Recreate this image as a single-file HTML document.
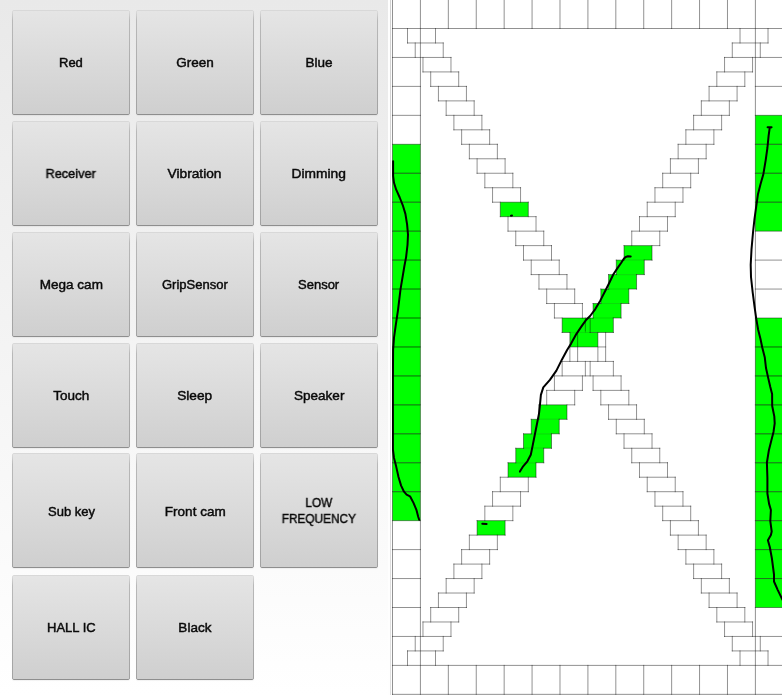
<!DOCTYPE html>
<html><head><meta charset="utf-8"><title>Test</title>
<style>
html,body{margin:0;padding:0}
body{width:782px;height:695px;overflow:hidden;position:relative;background:linear-gradient(#e9e9e9,#ffffff);font-family:"Liberation Sans",sans-serif}
.b{position:absolute;box-sizing:border-box;background:linear-gradient(#e5e5e5,#cfcfcf);border:1px solid transparent;border-top-color:#d8d8d8;border-bottom-color:#8e8e8e;box-shadow:0 1px 1px rgba(0,0,0,0.05);border-radius:2px;display:flex;align-items:center;justify-content:center;text-align:center;font-size:13px;color:#0a0a0a;line-height:15.5px;-webkit-text-stroke:0.45px #0a0a0a}
.b::before,.b::after{content:"";position:absolute;top:0;bottom:0;width:1px;background:linear-gradient(rgba(0,0,0,0.04),rgba(0,0,0,0.19) 9%,rgba(0,0,0,0.22))}
.b::before{left:-1px}.b::after{right:-1px}
.b span{display:block;position:relative;top:0;will-change:transform;transform:scaleX(var(--s,1))}
#p{position:absolute;left:392.0px;top:0;width:390.0px;height:695px;background:#fff}
#s2{position:absolute;left:388.3px;top:0;width:3.7px;height:695px;background:#fefefe}
#s{position:absolute;left:390px;top:0;width:1px;height:695px;background:linear-gradient(#d2d2d2,#e0e0e0)}
</style></head><body>
<div class="b" style="left:12px;top:10px;width:118px;height:105px"><span>Red</span></div><div class="b" style="left:136px;top:10px;width:118px;height:105px"><span style="--s:1.04;">Green</span></div><div class="b" style="left:260px;top:10px;width:118px;height:105px"><span style="--s:1.04;">Blue</span></div><div class="b" style="left:12px;top:121px;width:118px;height:105px"><span style="--s:0.98;">Receiver</span></div><div class="b" style="left:136px;top:121px;width:118px;height:105px"><span style="--s:1.055;">Vibration</span></div><div class="b" style="left:260px;top:121px;width:118px;height:105px"><span style="--s:1.06;">Dimming</span></div><div class="b" style="left:12px;top:232px;width:118px;height:105px"><span style="--s:1.04;">Mega cam</span></div><div class="b" style="left:136px;top:232px;width:118px;height:105px"><span>GripSensor</span></div><div class="b" style="left:260px;top:232px;width:118px;height:105px"><span>Sensor</span></div><div class="b" style="left:12px;top:343px;width:118px;height:105px"><span style="--s:1.04;">Touch</span></div><div class="b" style="left:136px;top:343px;width:118px;height:105px"><span style="--s:1.05;">Sleep</span></div><div class="b" style="left:260px;top:343px;width:118px;height:105px"><span style="--s:1.04;">Speaker</span></div><div class="b" style="left:12px;top:453px;width:118px;height:115px"><span style="top:1px">Sub key</span></div><div class="b" style="left:136px;top:453px;width:118px;height:115px"><span style="--s:1.04;top:1px">Front cam</span></div><div class="b" style="left:260px;top:453px;width:118px;height:115px"><span style="--s:0.91;">LOW<br>FREQUENCY</span></div><div class="b" style="left:12px;top:575px;width:118px;height:105px"><span>HALL IC</span></div><div class="b" style="left:136px;top:575px;width:118px;height:105px"><span style="--s:1.04;">Black</span></div>
<div id="s2"></div><div id="s"></div>
<svg id="p" width="390.0" height="695" viewBox="0 0 390.0 695">
<g fill="#00ff00" stroke="none"><rect x="363.39" y="115.35" width="27.91" height="28.95"/><rect x="0.50" y="144.30" width="27.91" height="28.95"/><rect x="363.39" y="144.30" width="27.91" height="28.95"/><rect x="0.50" y="173.25" width="27.91" height="28.95"/><rect x="363.39" y="173.25" width="27.91" height="28.95"/><rect x="0.50" y="202.20" width="27.91" height="28.95"/><rect x="363.39" y="202.20" width="27.91" height="28.95"/><rect x="0.50" y="231.15" width="27.91" height="28.95"/><rect x="0.50" y="260.10" width="27.91" height="28.95"/><rect x="0.50" y="289.05" width="27.91" height="28.95"/><rect x="0.50" y="318.00" width="27.91" height="28.95"/><rect x="363.39" y="318.00" width="27.91" height="28.95"/><rect x="0.50" y="346.95" width="27.91" height="28.95"/><rect x="363.39" y="346.95" width="27.91" height="28.95"/><rect x="0.50" y="375.90" width="27.91" height="28.95"/><rect x="363.39" y="375.90" width="27.91" height="28.95"/><rect x="0.50" y="404.85" width="27.91" height="28.95"/><rect x="363.39" y="404.85" width="27.91" height="28.95"/><rect x="0.50" y="433.80" width="27.91" height="28.95"/><rect x="363.39" y="433.80" width="27.91" height="28.95"/><rect x="0.50" y="462.75" width="27.91" height="28.95"/><rect x="363.39" y="462.75" width="27.91" height="28.95"/><rect x="0.50" y="491.70" width="27.91" height="28.95"/><rect x="363.39" y="491.70" width="27.91" height="28.95"/><rect x="363.39" y="520.65" width="27.91" height="28.95"/><rect x="363.39" y="549.60" width="27.91" height="28.95"/><rect x="363.39" y="578.55" width="27.91" height="28.95"/><rect x="108.30" y="202.20" width="28.00" height="14.47"/><rect x="232.02" y="245.62" width="28.00" height="14.47"/><rect x="224.29" y="260.10" width="28.00" height="14.47"/><rect x="216.56" y="274.57" width="28.00" height="14.47"/><rect x="208.82" y="289.05" width="28.00" height="14.47"/><rect x="201.09" y="303.52" width="28.00" height="14.47"/><rect x="170.16" y="318.00" width="28.00" height="14.47"/><rect x="193.36" y="318.00" width="28.00" height="14.47"/><rect x="177.89" y="332.47" width="28.00" height="14.47"/><rect x="146.96" y="404.85" width="28.00" height="14.47"/><rect x="139.23" y="419.32" width="28.00" height="14.47"/><rect x="131.50" y="433.80" width="28.00" height="14.47"/><rect x="123.76" y="448.27" width="28.00" height="14.47"/><rect x="116.03" y="462.75" width="28.00" height="14.47"/><rect x="85.10" y="520.65" width="28.00" height="14.47"/></g>
<path fill="none" stroke="rgba(0,0,0,0.43)" stroke-width="1" stroke-linecap="square" d="M0.50 -1.45H391.31M0.50 28.50H391.31M15.50 42.98H51.23M340.29 42.98H376.02M0.50 57.45H58.97M332.55 57.45H391.31M30.97 71.92H66.70M324.82 71.92H360.55M0.50 86.40H28.41M38.70 86.40H74.43M317.09 86.40H352.82M363.39 86.40H391.31M46.43 100.88H82.16M309.35 100.88H345.09M0.50 115.35H28.41M54.16 115.35H89.90M301.62 115.35H337.35M363.39 115.35H391.31M61.90 129.82H97.63M293.89 129.82H329.62M0.50 144.30H28.41M69.63 144.30H105.36M286.15 144.30H321.89M363.39 144.30H391.31M77.36 158.78H113.10M278.42 158.78H314.15M0.50 173.25H28.41M85.10 173.25H120.83M270.69 173.25H306.42M363.39 173.25H391.31M92.83 187.72H128.56M262.96 187.72H298.69M0.50 202.20H28.41M100.56 202.20H136.30M255.22 202.20H290.96M363.39 202.20H391.31M108.30 216.67H144.03M247.49 216.67H283.22M0.50 231.15H28.41M116.03 231.15H151.76M239.76 231.15H275.49M363.39 231.15H391.31M123.76 245.62H159.50M232.02 245.62H267.76M0.50 260.10H28.41M131.50 260.10H167.23M224.29 260.10H260.02M363.39 260.10H391.31M139.23 274.58H174.96M216.56 274.58H252.29M0.50 289.05H28.41M146.96 289.05H182.69M208.82 289.05H244.56M363.39 289.05H391.31M154.69 303.53H190.43M201.09 303.53H236.82M0.50 318.00H28.41M162.43 318.00H229.09M363.39 318.00H391.31M170.16 332.48H221.36M0.50 346.95H28.41M177.89 346.95H213.63M363.39 346.95H391.31M170.16 361.43H221.36M0.50 375.90H28.41M162.43 375.90H229.09M363.39 375.90H391.31M154.69 390.38H190.43M201.09 390.38H236.82M0.50 404.85H28.41M146.96 404.85H182.69M208.82 404.85H244.56M363.39 404.85H391.31M139.23 419.32H174.96M216.56 419.32H252.29M0.50 433.80H28.41M131.50 433.80H167.23M224.29 433.80H260.02M363.39 433.80H391.31M123.76 448.28H159.50M232.02 448.28H267.76M0.50 462.75H28.41M116.03 462.75H151.76M239.76 462.75H275.49M363.39 462.75H391.31M108.30 477.23H144.03M247.49 477.23H283.22M0.50 491.70H28.41M100.56 491.70H136.30M255.22 491.70H290.96M363.39 491.70H391.31M92.83 506.18H128.56M262.96 506.18H298.69M0.50 520.65H28.41M85.10 520.65H120.83M270.69 520.65H306.42M363.39 520.65H391.31M77.36 535.12H113.10M278.42 535.12H314.15M0.50 549.60H28.41M69.63 549.60H105.36M286.15 549.60H321.89M363.39 549.60H391.31M61.90 564.08H97.63M293.89 564.08H329.62M0.50 578.55H28.41M54.16 578.55H89.90M301.62 578.55H337.35M363.39 578.55H391.31M46.43 593.02H82.16M309.35 593.02H345.09M0.50 607.50H28.41M38.70 607.50H74.43M317.09 607.50H352.82M363.39 607.50H391.31M30.97 621.98H66.70M324.82 621.98H360.55M0.50 636.45H58.97M332.55 636.45H391.31M15.50 650.92H51.23M340.29 650.92H376.02M0.50 665.40H391.31M0.50 694.35H391.31M0.50 -1.45V694.35M15.50 28.50V42.98M15.50 650.92V665.40M23.23 42.98V57.45M23.23 636.45V650.92M28.41 -1.45V694.35M30.97 57.45V71.92M30.97 621.98V636.45M38.70 71.92V86.40M38.70 607.50V621.98M43.50 28.50V42.98M43.50 650.92V665.40M46.43 86.40V100.88M46.43 593.02V607.50M51.23 42.98V57.45M51.23 636.45V650.92M54.16 100.88V115.35M54.16 578.55V593.02M56.33 -1.45V28.50M56.33 665.40V694.35M58.97 57.45V71.92M58.97 621.98V636.45M61.90 115.35V129.82M61.90 564.07V578.55M66.70 71.92V86.40M66.70 607.50V621.98M69.63 129.82V144.30M69.63 549.60V564.08M74.43 86.40V100.88M74.43 593.02V607.50M77.36 144.30V158.78M77.36 535.12V549.60M82.16 100.88V115.35M82.16 578.55V593.02M84.25 -1.45V28.50M84.25 665.40V694.35M85.10 158.78V173.25M85.10 520.65V535.12M89.90 115.35V129.82M89.90 564.07V578.55M92.83 173.25V187.72M92.83 506.18V520.65M97.63 129.82V144.30M97.63 549.60V564.08M100.56 187.72V202.20M100.56 491.70V506.18M105.36 144.30V158.78M105.36 535.12V549.60M108.30 202.20V216.67M108.30 477.22V491.70M112.16 -1.45V28.50M112.16 665.40V694.35M113.10 158.78V173.25M113.10 520.65V535.12M116.03 216.67V231.15M116.03 462.75V477.23M120.83 173.25V187.72M120.83 506.18V520.65M123.76 231.15V245.62M123.76 448.27V462.75M128.56 187.72V202.20M128.56 491.70V506.18M131.50 245.62V260.10M131.50 433.80V448.28M136.30 202.20V216.67M136.30 477.22V491.70M139.23 260.10V274.58M139.23 419.32V433.80M140.07 -1.45V28.50M140.07 665.40V694.35M144.03 216.67V231.15M144.03 462.75V477.23M146.96 274.57V289.05M146.96 404.85V419.32M151.76 231.15V245.62M151.76 448.27V462.75M154.69 289.05V303.53M154.69 390.38V404.85M159.50 245.62V260.10M159.50 433.80V448.28M162.43 303.52V318.00M162.43 375.90V390.38M167.23 260.10V274.58M167.23 419.32V433.80M167.99 -1.45V28.50M167.99 665.40V694.35M170.16 318.00V332.48M170.16 361.43V375.90M174.96 274.57V289.05M174.96 404.85V419.32M177.89 332.47V361.43M182.69 289.05V303.53M182.69 390.38V404.85M185.63 332.47V361.43M190.43 303.52V318.00M190.43 375.90V390.38M193.36 318.00V332.48M193.36 361.43V375.90M195.91 -1.45V28.50M195.91 665.40V694.35M198.16 318.00V332.48M198.16 361.43V375.90M201.09 303.52V318.00M201.09 375.90V390.38M205.89 332.47V361.43M208.82 289.05V303.53M208.82 390.38V404.85M213.63 332.47V361.43M216.56 274.57V289.05M216.56 404.85V419.32M221.36 318.00V332.48M221.36 361.43V375.90M223.82 -1.45V28.50M223.82 665.40V694.35M224.29 260.10V274.58M224.29 419.32V433.80M229.09 303.52V318.00M229.09 375.90V390.38M232.02 245.62V260.10M232.02 433.80V448.28M236.82 289.05V303.53M236.82 390.38V404.85M239.76 231.15V245.62M239.76 448.27V462.75M244.56 274.57V289.05M244.56 404.85V419.32M247.49 216.67V231.15M247.49 462.75V477.23M251.73 -1.45V28.50M251.73 665.40V694.35M252.29 260.10V274.58M252.29 419.32V433.80M255.22 202.20V216.67M255.22 477.22V491.70M260.02 245.62V260.10M260.02 433.80V448.28M262.96 187.72V202.20M262.96 491.70V506.18M267.76 231.15V245.62M267.76 448.27V462.75M270.69 173.25V187.72M270.69 506.18V520.65M275.49 216.67V231.15M275.49 462.75V477.23M278.42 158.78V173.25M278.42 520.65V535.12M279.65 -1.45V28.50M279.65 665.40V694.35M283.22 202.20V216.67M283.22 477.22V491.70M286.15 144.30V158.78M286.15 535.12V549.60M290.96 187.72V202.20M290.96 491.70V506.18M293.89 129.82V144.30M293.89 549.60V564.08M298.69 173.25V187.72M298.69 506.18V520.65M301.62 115.35V129.82M301.62 564.07V578.55M306.42 158.78V173.25M306.42 520.65V535.12M307.56 -1.45V28.50M307.56 665.40V694.35M309.35 100.88V115.35M309.35 578.55V593.02M314.15 144.30V158.78M314.15 535.12V549.60M317.09 86.40V100.88M317.09 593.02V607.50M321.89 129.82V144.30M321.89 549.60V564.08M324.82 71.92V86.40M324.82 607.50V621.98M329.62 115.35V129.82M329.62 564.07V578.55M332.55 57.45V71.92M332.55 621.98V636.45M335.48 -1.45V28.50M335.48 665.40V694.35M337.35 100.88V115.35M337.35 578.55V593.02M340.29 42.98V57.45M340.29 636.45V650.92M345.09 86.40V100.88M345.09 593.02V607.50M348.02 28.50V42.98M348.02 650.92V665.40M352.82 71.92V86.40M352.82 607.50V621.98M360.55 57.45V71.92M360.55 621.98V636.45M363.40 -1.45V694.35M368.29 42.98V57.45M368.29 636.45V650.92M376.02 28.50V42.98M376.02 650.92V665.40M391.31 -1.45V694.35"/>
<path fill="none" stroke="rgba(0,0,0,0.22)" stroke-width="1" d="M363.89 144.30H390.0M1.00 173.25H27.91M363.89 173.25H390.0M1.00 202.20H27.91M363.89 202.20H390.0M1.00 231.15H27.91M1.00 260.10H27.91M1.00 289.05H27.91M1.00 318.00H27.91M1.00 346.95H27.91M363.89 346.95H390.0M1.00 375.90H27.91M363.89 375.90H390.0M1.00 404.85H27.91M363.89 404.85H390.0M1.00 433.80H27.91M363.89 433.80H390.0M1.00 462.75H27.91M363.89 462.75H390.0M1.00 491.70H27.91M363.89 491.70H390.0M363.89 520.65H390.0M363.89 549.60H390.0M363.89 578.55H390.0"/>
<g fill="#00ff00" opacity="0.7"><rect x="232.82" y="259.10" width="18.67" height="2"/><rect x="225.09" y="273.57" width="18.67" height="2"/><rect x="217.36" y="288.05" width="18.67" height="2"/><rect x="209.62" y="302.52" width="18.67" height="2"/><rect x="201.89" y="317.00" width="18.67" height="2"/><rect x="147.76" y="418.32" width="18.67" height="2"/><rect x="140.03" y="432.80" width="18.67" height="2"/><rect x="132.30" y="447.27" width="18.67" height="2"/><rect x="124.56" y="461.75" width="18.67" height="2"/><rect x="178.69" y="331.47" width="18.67" height="2"/></g>
<g fill="none" stroke="#000" stroke-width="2" stroke-linecap="round" stroke-linejoin="round"><polyline points="1.1,161.2 1.1,175.9 2.0,182.8 4.2,189.7 7.7,197.5 10.8,205.3 13.4,213.9 15.1,224.3 16.0,234.6 15.5,245.0 14.1,257.1 12.4,266.0 11.1,273.8 8.5,289.4 6.0,310.1 3.7,325.6 2.0,337.7 1.1,349.8 0.9,379.7 0.9,420.0 0.9,449.4 2.0,458.0 4.2,466.6 6.5,477.0 9.1,485.6 12.0,491.7 14.6,494.6 18.0,496.3 21.5,502.9 24.4,509.8 26.2,516.7 27.2,519.8"/><polyline points="375.6,127.2 379.6,127.2 377.7,127.8 376.6,135.9 375.4,148.0 373.7,160.1 371.4,173.9 368.5,184.3 365.9,194.6 364.2,206.7 362.5,218.8 361.1,231.5 359.5,249.4 358.7,264.9 359.0,277.0 360.7,292.5 362.5,306.4 364.2,318.4 366.1,329.4 368.5,339.0 370.2,347.3 372.8,357.6 374.0,368.0 376.3,378.4 378.3,387.0 380.1,393.9 380.2,406.0 382.3,416.4 382.7,423.3 381.5,431.9 379.2,441.0 376.9,450.2 374.9,462.5 375.4,478.0 375.4,493.5 377.1,503.9 378.9,510.0 378.3,521.2 379.7,531.5 378.9,535.0 375.9,540.2 377.8,547.0 379.9,558.5 382.0,574.5 382.0,581.5 385.8,590.1 390.5,599.8"/><polyline points="238.7,256.5 236.0,256.3 233.7,257.0 231.8,258.8 229.1,263.0 225.3,268.4 221.4,274.2 217.1,283.2 212.8,291.8 208.4,300.4 203.3,309.1 198.1,316.0 193.8,320.3 189.5,326.4 184.3,334.1 179.1,343.6 175.1,350.0 170.0,359.4 164.4,370.6 157.9,379.9 151.3,387.4 148.9,394.9 148.0,404.3 147.0,413.6 144.8,424.8 142.9,434.2 140.7,445.4 138.8,454.8 135.4,461.3 130.7,466.9 127.9,471.6"/><polyline points="119.0,215.7 120.0,215.6"/><polyline points="90.3,523.8 94.6,523.9"/></g>
</svg>
</body></html>
